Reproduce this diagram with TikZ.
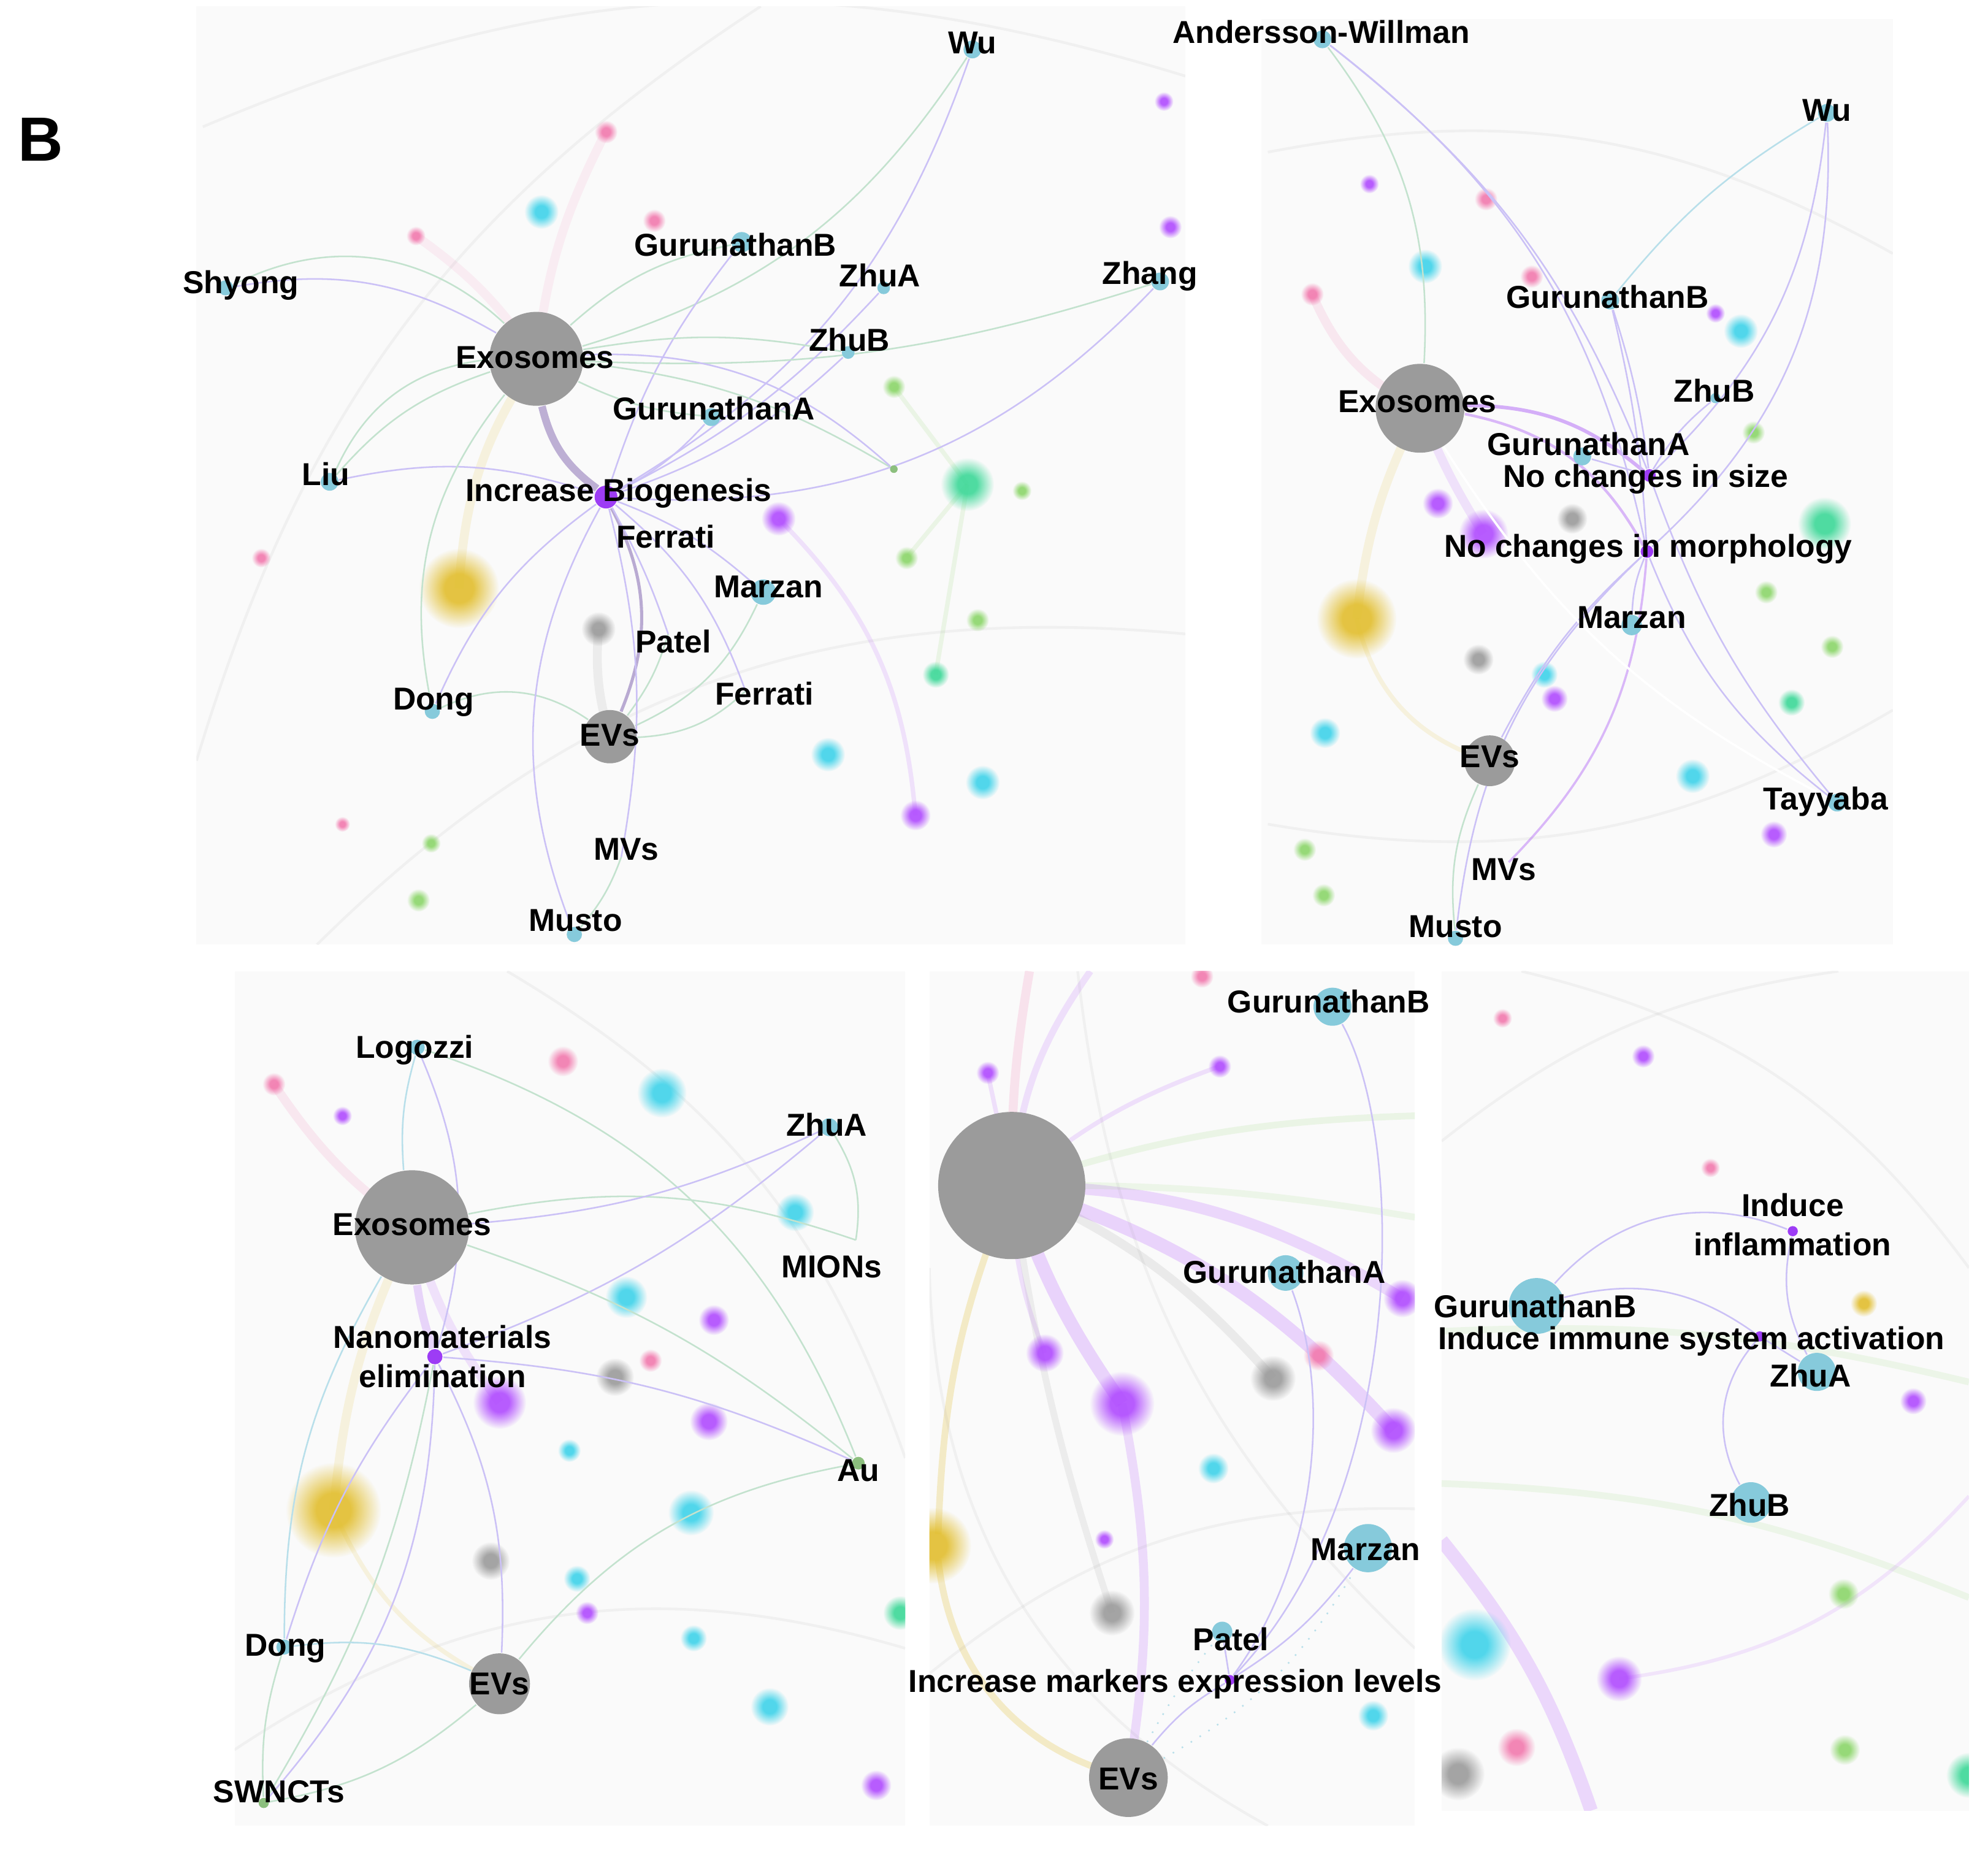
\documentclass[tikz,border=0pt]{standalone}
\usepackage{fontspec}
\setmainfont{Liberation Sans}
\usetikzlibrary{fadings}
\pgfdeclarelayer{bg}
\pgfdeclarelayer{edges}
\pgfsetlayers{bg,edges,main}
\definecolor{ngray}{HTML}{9B9B9B}
\definecolor{ccyan}{HTML}{86CADB}
\definecolor{bcyan}{HTML}{3FD3EA}
\definecolor{cpurp}{HTML}{9D3CF5}
\definecolor{bpurp}{HTML}{B04BFF}
\definecolor{byel}{HTML}{E2BE2E}
\definecolor{bgreen}{HTML}{3DD898}
\definecolor{lgreen}{HTML}{8CD66A}
\definecolor{bpink}{HTML}{F27AAE}
\definecolor{epurp}{HTML}{CBC1F6}
\definecolor{egreen}{HTML}{C3E2CE}
\definecolor{ecyan}{HTML}{B8DFEA}
\definecolor{gdot}{HTML}{8CBF7E}
\definecolor{thkpurp}{HTML}{A996C8}
\pgfdeclareradialshading{myfuzzshade}{\pgfpointorigin}{color(0bp)=(pgftransparent!0); color(9bp)=(pgftransparent!0); color(25bp)=(pgftransparent!100); color(50bp)=(pgftransparent!100)}
\pgfdeclarefading{myfuzz}{\pgfuseshading{myfuzzshade}}
\newcommand\myblob[4]{%
  \fill[#4, path fading=myfuzz, fill opacity=0.9] (#1,#2) circle[radius=1.5*#3];}
\tikzset{
  lbl/.style={font=\bfseries\fontsize{7.1}{8.8}\selectfont, inner sep=0pt, text=black, align=center},
  rad/.style={minimum size=#1*0.02cm},
  gnode/.style={circle, fill=ngray, inner sep=0pt, draw=none},
  cnode/.style={circle, fill=ccyan, inner sep=0pt, draw=none},
  pnode/.style={circle, fill=cpurp, inner sep=0pt, draw=none},
  pe/.style={draw=epurp, line width=0.35pt},
  ge/.style={draw=egreen, line width=0.35pt},
  ce/.style={draw=ecyan, line width=0.35pt},
  fe/.style={line width=2pt, opacity=0.14},
  panel/.style={fill=black!2, draw=none},
}
\begin{document}
\begin{tikzpicture}[x=0.01cm,y=-0.01cm]
\useasboundingbox (0,0) rectangle (1568,1469);
\node[font=\bfseries\fontsize{14}{16}\selectfont, inner sep=0pt] (B) at (32,110) {B};

% ================= backgrounds =================
\begin{pgfonlayer}{bg}
\fill[white] (0,0) rectangle (1568,1469);
\fill[panel] (155,5) rectangle (935,745);
\fill[panel] (995,15) rectangle (1493,745);
\fill[panel] (185,766) rectangle (714,1440);
\fill[panel] (733,766) rectangle (1116,1440);
\fill[panel] (1137,766) rectangle (1553,1428);
% panel 1 blobs
\begin{scope}
\clip (155,5) rectangle (935,745);
\draw[byel, fe] (423,283) to[bend right=15] (362,464);
\draw[bpink, fe, opacity=0.1] (423,283) to[bend left=10] (478,104);
\draw[bpink, fe, opacity=0.1] (423,283) to[bend right=10] (328,186);
\draw[ngray, fe] (481,581) to[bend left=10] (472,496);
\draw[lgreen, fe, line width=1pt] (763,382) -- (738,532);
\draw[lgreen, fe, line width=1pt] (763,382) -- (705,305);
\draw[lgreen, fe, line width=1pt] (763,382) -- (715,440);
\draw[bpurp, fe, line width=1pt] (614,409) to[bend left=20] (722,643);
\draw[ngray, line width=0.6pt, opacity=0.1] (160,100) to[bend left=20] (935,60);
\draw[ngray, line width=0.6pt, opacity=0.1] (250,745) to[bend left=25] (935,500);
\draw[ngray, line width=0.6pt, opacity=0.1] (155,600) to[bend left=20] (600,5);
\myblob{362}{464}{21}{byel}
\myblob{763}{382}{14}{bgreen}
\myblob{427}{167}{9}{bcyan}
\myblob{472}{496}{9}{ngray}
\myblob{614}{409}{9}{bpurp}
\myblob{722}{643}{8}{bpurp}
\myblob{653}{595}{9}{bcyan}
\myblob{775}{617}{9}{bcyan}
\myblob{738}{532}{7}{bgreen}
\myblob{715}{440}{6}{lgreen}
\myblob{771}{489}{6}{lgreen}
\myblob{705}{305}{6}{lgreen}
\myblob{806}{387}{5}{lgreen}
\myblob{478}{104}{6}{bpink}
\myblob{516}{174}{6}{bpink}
\myblob{328}{186}{5}{bpink}
\myblob{206}{440}{5}{bpink}
\myblob{923}{179}{6}{bpurp}
\myblob{918}{80}{5}{bpurp}
\myblob{340}{665}{5}{lgreen}
\myblob{330}{710}{6}{lgreen}
\myblob{270}{650}{4}{bpink}
\end{scope}
% panel 2 blobs
\begin{scope}
\clip (995,15) rectangle (1493,745);
\draw[byel, fe] (1120,322) to[bend right=10] (1070,488);
\draw[bpink, fe] (1035,232) to[bend right=20] (1120,322);
\draw[bpurp, fe] (1120,322) to[bend right=5] (1170,421);
\draw[byel, fe, line width=1pt] (1070,488) to[bend right=30] (1175,600);
\draw[ngray, line width=0.6pt, opacity=0.1] (1000,120) to[bend left=20] (1493,200);
\draw[ngray, line width=0.6pt, opacity=0.1] (1000,650) to[bend right=20] (1493,560);
\myblob{1070}{488}{21}{byel}
\myblob{1170}{421}{13}{bpurp}
\myblob{1134}{397}{8}{bpurp}
\myblob{1240}{409}{8}{ngray}
\myblob{1166}{520}{8}{ngray}
\myblob{1124}{210}{9}{bcyan}
\myblob{1373}{261}{9}{bcyan}
\myblob{1045}{578}{8}{bcyan}
\myblob{1335}{612}{9}{bcyan}
\myblob{1218}{532}{7}{bcyan}
\myblob{1226}{551}{7}{bpurp}
\myblob{1439}{413}{14}{bgreen}
\myblob{1393}{467}{6}{lgreen}
\myblob{1445}{510}{6}{lgreen}
\myblob{1413}{554}{7}{bgreen}
\myblob{1383}{341}{6}{lgreen}
\myblob{1029}{670}{6}{lgreen}
\myblob{1044}{706}{6}{lgreen}
\myblob{1172}{157}{6}{bpink}
\myblob{1208}{218}{6}{bpink}
\myblob{1035}{232}{6}{bpink}
\myblob{1399}{658}{7}{bpurp}
\myblob{1353}{247}{5}{bpurp}
\myblob{1080}{145}{5}{bpurp}
\end{scope}
% panel 3 blobs
\begin{scope}
\clip (185,766) rectangle (714,1440);
\draw[byel, fe] (325,968) to[bend right=10] (263,1191);
\draw[bpurp, fe] (325,968) to[bend right=10] (394,1106);
\draw[bpink, fe] (216,855) to[bend right=10] (325,968);
\draw[byel, fe, line width=1pt] (263,1191) to[bend right=20] (394,1328);
\draw[ngray, line width=0.6pt, opacity=0.1] (185,1380) to[bend left=25] (714,1300);
\draw[ngray, line width=0.6pt, opacity=0.1] (400,766) to[bend left=20] (714,1150);
\myblob{263}{1191}{25}{byel}
\myblob{394}{1106}{14}{bpurp}
\myblob{559}{1121}{10}{bpurp}
\myblob{563}{1041}{8}{bpurp}
\myblob{691}{1408}{8}{bpurp}
\myblob{463}{1272}{6}{bpurp}
\myblob{522}{862}{13}{bcyan}
\myblob{494}{1023}{11}{bcyan}
\myblob{627}{956}{10}{bcyan}
\myblob{545}{1193}{12}{bcyan}
\myblob{607}{1346}{10}{bcyan}
\myblob{449}{1144}{6}{bcyan}
\myblob{547}{1292}{7}{bcyan}
\myblob{455}{1245}{7}{bcyan}
\myblob{485}{1086}{10}{ngray}
\myblob{387}{1231}{10}{ngray}
\myblob{444}{837}{8}{bpink}
\myblob{216}{855}{6}{bpink}
\myblob{513}{1073}{6}{bpink}
\myblob{710}{1272}{9}{bgreen}
\myblob{270}{880}{5}{bpurp}
\end{scope}
% panel 4 blobs
\begin{scope}
\clip (733,766) rectangle (1116,1440);
\draw[bpurp, line width=3pt, opacity=0.22] (798,935) to[bend right=8] (885,1107);
\draw[bpurp, line width=2pt, opacity=0.18] (885,1107) to[bend left=10] (890,1402);
\draw[bpurp, line width=3pt, opacity=0.22] (798,935) to[bend left=15] (1099,1128);
\draw[bpurp, line width=2.5pt, opacity=0.2] (798,935) to[bend left=15] (1106,1024);
\draw[bpink, line width=2pt, opacity=0.18] (798,935) to[bend left=5] (812,766);
\draw[bpurp, line width=1.5pt, opacity=0.15] (798,935) to[bend left=15] (860,766);
\draw[bpurp, line width=1pt, opacity=0.15] (798,935) -- (779,846);
\draw[bpurp, line width=1pt, opacity=0.15] (798,935) to[bend left=10] (962,841);
\draw[bpurp, line width=1pt, opacity=0.15] (798,935) to[bend right=10] (824,1067);
\draw[byel, line width=1.5pt, opacity=0.25] (798,935) to[bend right=10] (740,1210);
\draw[byel, line width=1.5pt, opacity=0.25] (740,1230) to[bend right=35] (890,1402);
\draw[ngray, line width=2pt, opacity=0.16] (798,935) to[bend left=12] (1004,1087);
\draw[ngray, line width=1.5pt, opacity=0.14] (798,935) to[bend right=5] (877,1272);
\draw[lgreen, line width=1.5pt, opacity=0.14] (798,935) to[bend left=8] (1116,880);
\draw[lgreen, line width=1.5pt, opacity=0.12] (798,935) to[bend left=5] (1116,960);
\draw[ngray, line width=0.6pt, opacity=0.1] (850,766) to[bend right=20] (1116,1300);
\draw[ngray, line width=0.6pt, opacity=0.1] (733,1000) to[bend right=30] (1000,1440);
\draw[ngray, line width=0.6pt, opacity=0.1] (733,1320) to[bend left=20] (1116,1190);
\myblob{885}{1107}{17}{bpurp}
\myblob{824}{1067}{10}{bpurp}
\myblob{1106}{1024}{10}{bpurp}
\myblob{1099}{1128}{12}{bpurp}
\myblob{779}{846}{6}{bpurp}
\myblob{962}{841}{6}{bpurp}
\myblob{871}{1214}{5}{bpurp}
\myblob{1004}{1087}{12}{ngray}
\myblob{877}{1272}{12}{ngray}
\myblob{957}{1158}{8}{bcyan}
\myblob{1083}{1353}{8}{bcyan}
\myblob{1040}{1069}{8}{bpink}
\myblob{948}{770}{6}{bpink}
\myblob{736}{1219}{20}{byel}
\end{scope}
% panel 5 blobs
\begin{scope}
\clip (1137,766) rectangle (1553,1428);
\draw[bpurp, line width=3pt, opacity=0.2] (1137,1215) to[bend left=10] (1255,1428);
\draw[lgreen, line width=1.5pt, opacity=0.12] (1137,1050) to[bend left=8] (1553,1090);
\draw[lgreen, line width=1.5pt, opacity=0.12] (1137,1170) to[bend left=10] (1553,1260);
\draw[ngray, line width=0.6pt, opacity=0.1] (1200,766) to[bend left=20] (1553,1000);
\draw[ngray, line width=0.6pt, opacity=0.1] (1137,900) to[bend left=15] (1450,766);
\draw[bpurp, line width=0.8pt, opacity=0.12] (1277,1324) to[bend right=20] (1553,1180);
\myblob{1163}{1297}{19}{bcyan}
\myblob{1277}{1324}{12}{bpurp}
\myblob{1196}{1378}{10}{bpink}
\myblob{1150}{1399}{14}{ngray}
\myblob{1454}{1257}{8}{lgreen}
\myblob{1455}{1380}{8}{lgreen}
\myblob{1470}{1028}{7}{byel}
\myblob{1296}{833}{6}{bpurp}
\myblob{1185}{803}{5}{bpink}
\myblob{1349}{921}{5}{bpink}
\myblob{1509}{1105}{7}{bpurp}
\myblob{1553}{1400}{12}{bgreen}
\end{scope}
\end{pgfonlayer}

% ================= panel 1 nodes =================
\node[cnode, rad=7] (p1wu) at (767,39) {};
\node[cnode, rad=6] (p1shy) at (178,227) {};
\node[cnode, rad=8] (p1gb) at (585,191) {};
\node[cnode, rad=5] (p1zha) at (697,227) {};
\node[cnode, rad=7] (p1zhang) at (915,222) {};
\node[cnode, rad=5] (p1zhb) at (669,278) {};
\node[cnode, rad=7] (p1ga) at (561,329) {};
\node[cnode, rad=7] (p1liu) at (260,380) {};
\node[pnode, rad=9] (p1bio) at (478,392) {};
\node[cnode, rad=10] (p1mar) at (602,467) {};
\node[cnode, rad=6] (p1dong) at (341,561) {};
\node[gnode, rad=21] (p1ev) at (481,581) {};
\node[cnode, rad=6] (p1mus) at (453,737) {};
\node[gnode, rad=37] (p1exo) at (423,283) {};
\node[circle, fill=gdot, inner sep=0pt, rad=3] (p1gd) at (705,370) {};
\coordinate (p1fe1) at (522,428);
\coordinate (p1pat) at (527,500);
\coordinate (p1fe2) at (588,545);
\coordinate (p1mvs) at (490,676);

\node[lbl] (l1wu) at (767,34) {Wu};
\node[lbl] (l1shy) at (190,225) {Shyong};
\node[lbl] (l1gb) at (580,193) {GurunathanB};
\node[lbl] (l1zha) at (694,217) {ZhuA};
\node[lbl] (l1zhang) at (907,218) {Zhang};
\node[lbl] (l1zhb) at (670,268) {ZhuB};
\node[lbl] (l1exo) at (422,282) {Exosomes};
\node[lbl] (l1ga) at (563,322) {GurunathanA};
\node[lbl] (l1liu) at (257,374) {Liu};
\node[lbl] (l1bio) at (488,389) {Increase Biogenesis};
\node[lbl] (l1fe1) at (525,423) {Ferrati};
\node[lbl] (l1mar) at (606,463) {Marzan};
\node[lbl] (l1pat) at (531,506) {Patel};
\node[lbl] (l1fe2) at (603,547) {Ferrati};
\node[lbl] (l1dong) at (342,554) {Dong};
\node[lbl] (l1ev) at (481,580) {EVs};
\node[lbl] (l1mvs) at (494,670) {MVs};
\node[lbl] (l1mus) at (454,726) {Musto};

% ================= panel 2 nodes =================
\node[cnode, rad=7] (p2aw) at (1043,31) {};
\node[cnode, rad=7] (p2wu) at (1441,89) {};
\node[cnode, rad=7] (p2gb) at (1270,237) {};
\node[gnode, rad=35] (p2exo) at (1120,322) {};
\node[cnode, rad=4] (p2zhb) at (1353,314) {};
\node[cnode, rad=7] (p2ga) at (1248,360) {};
\node[pnode, rad=5] (p2size) at (1301,375) {};
\node[pnode, rad=5] (p2morph) at (1299,435) {};
\node[cnode, rad=8] (p2mar) at (1287,493) {};
\node[gnode, rad=20] (p2ev) at (1175,600) {};
\node[cnode, rad=7] (p2tay) at (1449,633) {};
\node[cnode, rad=6] (p2mus) at (1148,740) {};
\coordinate (p2mvs) at (1190,680);

\node[lbl] (l2aw) at (1042,25) {Andersson-Willman};
\node[lbl] (l2wu) at (1441,87) {Wu};
\node[lbl] (l2gb) at (1268,234) {GurunathanB};
\node[lbl] (l2exo) at (1118,317) {Exosomes};
\node[lbl] (l2zhb) at (1352,308) {ZhuB};
\node[lbl] (l2ga) at (1253,350) {GurunathanA};
\node[lbl] (l2size) at (1298,378) {No changes in size};
\node[lbl] (l2morph) at (1300,433) {No changes in morphology};
\node[lbl] (l2mar) at (1287,487) {Marzan};
\node[lbl] (l2ev) at (1175,597) {EVs};
\node[lbl] (l2tay) at (1440,632) {Tayyaba};
\node[lbl] (l2mvs) at (1186,686) {MVs};
\node[lbl] (l2mus) at (1148,731) {Musto};

% ================= panel 3 nodes =================
\node[cnode, rad=6] (p3log) at (329,826) {};
\node[cnode, rad=7] (p3zha) at (654,889) {};
\node[gnode, rad=45] (p3exo) at (325,968) {};
\coordinate (p3mion) at (675,978);
\node[pnode, rad=6] (p3nano) at (343,1070) {};
\node[circle, fill=gdot, inner sep=0pt, rad=5] (p3au) at (677,1154) {};
\node[cnode, rad=6] (p3dong) at (224,1299) {};
\node[gnode, rad=24] (p3ev) at (394,1328) {};
\node[circle, fill=gdot, inner sep=0pt, rad=4] (p3sw) at (208,1422) {};

\node[lbl] (l3log) at (327,828) {Logozzi};
\node[lbl] (l3zha) at (652,887) {ZhuA};
\node[lbl] (l3exo) at (325,966) {Exosomes};
\node[lbl] (l3mion) at (656,999) {MIONs};
\node[lbl] (l3nano) at (349,1070) {Nanomaterials\\elimination};
\node[lbl] (l3au) at (677,1160) {Au};
\node[lbl] (l3dong) at (225,1300) {Dong};
\node[lbl] (l3ev) at (394,1328) {EVs};
\node[lbl] (l3sw) at (220,1413) {SWNCTs};

% ================= panel 4 nodes =================
\node[gnode, rad=58] (p4big) at (798,935) {};
\node[cnode, rad=15] (p4gb) at (1051,794) {};
\node[cnode, rad=14] (p4ga) at (1014,1004) {};
\node[cnode, rad=19] (p4mar) at (1079,1221) {};
\node[cnode, rad=8] (p4pat) at (964,1287) {};
\node[pnode, rad=4] (p4mk) at (970,1325) {};
\node[gnode, rad=31] (p4ev) at (890,1402) {};

\node[lbl] (l4gb) at (1048,790) {GurunathanB};
\node[lbl] (l4ga) at (1013,1003) {GurunathanA};
\node[lbl] (l4mar) at (1077,1222) {Marzan};
\node[lbl] (l4pat) at (971,1293) {Patel};
\node[lbl] (l4mk) at (927,1328) {Increase markers expression levels};
\node[lbl] (l4ev) at (890,1403) {EVs};

% ================= panel 5 nodes =================
\node[cnode, rad=22] (p5gb) at (1212,1030) {};
\node[pnode, rad=4] (p5inf) at (1414,971) {};
\node[pnode, rad=4] (p5imm) at (1388,1054) {};
\node[cnode, rad=15] (p5zha) at (1433,1082) {};
\node[cnode, rad=16] (p5zhb) at (1381,1185) {};

\node[lbl] (l5gb) at (1211,1030) {GurunathanB};
\node[lbl] (l5inf) at (1414,966) {Induce\\inflammation};
\node[lbl] (l5imm) at (1334,1058) {Induce immune system activation};
\node[lbl] (l5zha) at (1428,1085) {ZhuA};
\node[lbl] (l5zhb) at (1380,1187) {ZhuB};

% ================= edges =================
\begin{pgfonlayer}{edges}
% panel 1
\draw[draw=thkpurp, line width=1.7pt, opacity=0.75] (p1exo) to[bend right=20] (p1bio);
\draw[draw=thkpurp, line width=0.7pt, opacity=0.8] (p1bio) to[bend left=25] (p1ev);
\draw[pe] (p1bio) to[bend right=20] (p1wu);
\draw[ge] (p1exo) to[bend right=20] (p1wu);
\draw[pe] (p1bio) to[bend right=25] (p1zhang);
\draw[ge] (p1exo) to[bend right=10] (p1zhang);
\draw[pe] (p1bio) to[bend right=10] (p1zha);
\draw[pe] (p1bio) to[bend right=12] (p1zhb);
\draw[pe] (p1bio) to[bend left=10] (p1gb);
\draw[ge] (p1exo) to[bend left=15] (p1gb);
\draw[ge] (p1exo) to[bend left=10] (p1zhb);
\draw[ge] (p1exo) to[bend right=10] (p1ga);
\draw[pe] (p1bio) to[bend right=10] (p1ga);
\draw[ge] (p1exo) to[bend left=12] (p1gd);
\draw[pe] (p1exo) to[bend left=22] (p1gd);
\draw[pe] (p1shy) to[bend left=20] (p1exo);
\draw[ge] (p1shy) to[bend left=35] (p1exo);
\draw[ge] (p1liu) to[bend left=15] (p1exo);
\draw[ge] (p1liu) to[bend left=30] (p1exo);
\draw[pe] (p1liu) to[bend left=15] (p1bio);
\draw[ge] (p1dong) to[bend left=25] (p1exo);
\draw[pe] (p1dong) to[bend left=15] (p1bio);
\draw[ge] (p1dong) to[bend left=30] (p1ev);
\draw[ge] (p1ev) to[bend right=20] (p1fe2);
\draw[ge] (p1ev) to[bend right=20] (p1mar);
\draw[ge] (p1ev) to[bend right=10] (p1pat);
\draw[pe] (p1bio) to[bend left=10] (p1mar);
\draw[pe] (p1bio) to[bend left=5] (p1pat);
\draw[pe] (p1bio) to[bend left=15] (p1fe2);
\draw[pe] (p1bio) to[bend right=25] (p1mus);
\draw[pe] (p1bio) to[bend left=12] (p1mvs);
\draw[ge] (p1mus) to[bend right=10] (p1mvs);
% panel 2
\draw[cpurp, line width=0.8pt, opacity=0.4] (p2exo) to[bend left=20] (p2size);
\draw[cpurp, line width=0.6pt, opacity=0.35] (p2exo) to[bend left=25] (p2morph);
\draw[ge] (p2aw) to[bend left=20] (p2exo);
\draw[pe] (p2aw) to[bend left=20] (p2morph);
\draw[pe] (p2aw) to[bend left=15] (p2size);
\draw[pe] (p2wu) to[bend left=25] (p2morph);
\draw[pe] (p2wu) to[bend left=20] (p2size);
\draw[ce] (p2wu) to[bend right=10] (p2gb);
\draw[pe] (p2gb) to[bend left=5] (p2morph);
\draw[pe] (p2gb) to[bend left=5] (p2size);
\draw[pe] (p2zhb) to[bend right=10] (p2size);
\draw[pe] (p2ga) -- (p2size);
\draw[pe] (p2mar) to[bend left=10] (p2morph);
\draw[pe] (p2ev) to[bend left=10] (p2morph);
\draw[cpurp, line width=0.5pt, opacity=0.35] (p2mvs) to[bend right=20] (p2morph);
\draw[pe] (p2mus) to[bend left=20] (p2morph);
\draw[ge] (p2mus) to[bend left=15] (p2ev);
\draw[pe] (p2tay) to[bend left=15] (p2morph);
\draw[pe] (p2tay) to[bend left=10] (p2size);
\draw[white, line width=0.5pt] (p2exo) to[bend right=15] (p2tay);
% panel 3
\draw[cpurp, line width=1.8pt, opacity=0.2] (p3exo) to[bend right=5] (p3nano);
\draw[pe] (p3log) to[bend left=20] (p3nano);
\draw[ce] (p3log) to[bend right=10] (p3exo);
\draw[ge] (p3log) to[bend left=25] (p3au);
\draw[pe] (p3zha) to[bend left=10] (p3nano);
\draw[ge] (p3zha) to[bend left=20] (p3mion);
\draw[ge] (p3exo) to[bend left=15] (p3mion);
\draw[ge] (p3exo) to[bend left=10] (p3au);
\draw[pe] (p3exo) to[bend right=10] (p3zha);
\draw[pe] (p3nano) to[bend left=10] (p3au);
\draw[ce] (p3exo) to[bend right=15] (p3dong);
\draw[pe] (p3nano) to[bend right=10] (p3dong);
\draw[pe] (p3nano) to[bend left=20] (p3sw);
\draw[ge] (p3nano) to[bend left=10] (p3sw);
\draw[pe] (p3nano) to[bend left=15] (p3ev);
\draw[ce] (p3dong) to[bend left=15] (p3ev);
\draw[ge] (p3dong) to[bend right=10] (p3sw);
\draw[ge] (p3ev) to[bend left=20] (p3au);
\draw[ge] (p3ev) to[bend left=15] (p3sw);
% panel 4
\draw[pe] (p4gb) .. controls (1110,900) and (1110,1180) .. (p4mk);
\draw[pe] (p4ga) .. controls (1050,1100) and (1040,1230) .. (p4mk);
\draw[pe] (p4mar) to[bend left=10] (p4mk);
\draw[pe] (p4pat) -- (p4mk);
\draw[pe] (p4ev) to[bend left=10] (p4mk);
\draw[ce, dotted] (p4ev) to[bend right=15] (p4mar);
\draw[ce, dotted] (p4ev) to[bend left=5] (p4pat);
% panel 5
\draw[pe] (p5gb) to[bend left=35] (p5inf);
\draw[pe] (p5gb) to[bend left=25] (p5imm);
\draw[pe] (p5inf) to[bend right=20] (p5zha);
\draw[pe] (p5imm) to[bend right=35] (p5zhb);
\draw[pe] (p5imm) -- (p5zha);
\end{pgfonlayer}
\end{tikzpicture}
\end{document}
